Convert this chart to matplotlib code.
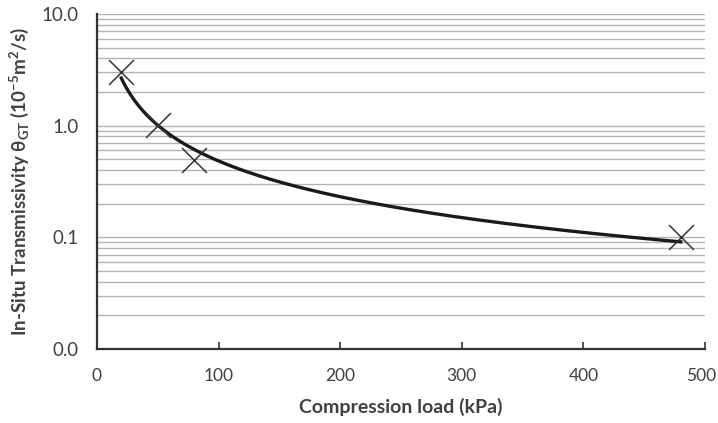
import numpy as np
import matplotlib
matplotlib.use("Agg")
import matplotlib.pyplot as plt
import matplotlib.transforms as mtransforms
from matplotlib.ticker import FixedLocator, FixedFormatter, LogLocator, NullFormatter

# Data
load_kpa = [20, 50, 80, 480]
transmissivity = [3.0, 1.02, 0.49, 0.10]
x_ticks = [0, 100, 200, 300, 400, 500]
y_ticks = [0.01, 0.1, 1.0, 10.0]
y_tick_labels = ["0.0", "0.1", "1.0", "10.0"]

plt.rcParams['font.family'] = ['Lato', 'DejaVu Sans']
plt.rcParams['mathtext.fontset'] = 'custom'
plt.rcParams['mathtext.rm'] = 'Lato:bold'
plt.rcParams['mathtext.bf'] = 'Lato:bold'
plt.rcParams['mathtext.it'] = 'Lato:bold'

fig = plt.figure(figsize=(7.18, 4.23), dpi=100)
ax = fig.add_axes([0.135, 0.175, 0.847, 0.792])

# power-law trend line fitted to data
lx = np.log(load_kpa)
ly = np.log(transmissivity)
b, a = np.polyfit(lx, ly, 1)
xs = np.linspace(min(load_kpa), max(load_kpa), 300)
ax.plot(xs, np.exp(a) * xs ** b, color='#1a1a1a', lw=2.4, zorder=3)

ax.scatter(load_kpa, transmissivity, marker='x', s=320, color='#333333',
           linewidths=1.1, zorder=4)

ax.set_yscale('log')
ax.set_ylim(0.01, 10)
ax.set_xlim(0, 500)

ax.yaxis.set_major_locator(FixedLocator(y_ticks))
ax.yaxis.set_major_formatter(FixedFormatter(y_tick_labels))
ax.yaxis.set_minor_locator(LogLocator(base=10, subs=np.arange(2, 10)))
ax.yaxis.set_minor_formatter(NullFormatter())
ax.grid(True, which='both', axis='y', color='#b3b3b3', lw=1.0)
ax.set_axisbelow(True)

ax.xaxis.set_major_locator(FixedLocator(x_ticks))
ax.tick_params(axis='x', direction='in', length=5, width=1.2, color='#333333',
               labelsize=12.5, labelcolor='#404040', pad=14)
ax.tick_params(axis='y', which='both', length=0, labelsize=13.5,
               labelcolor='#404040', pad=13)

for s in ['top', 'right']:
    ax.spines[s].set_visible(False)
for s in ['left', 'bottom']:
    ax.spines[s].set_color('#333333')
    ax.spines[s].set_linewidth(1.6)

ax.set_xlabel('Compression load (kPa)', fontsize=14, fontweight='bold',
              color='#404040', labelpad=10)
ax.set_ylabel(r'In-Situ Transmissivity θ$_{\mathrm{GT}}$ (10$^{\mathrm{-5}}$m$^{\mathrm{2}}$/s)',
              fontsize=13.5, fontweight='bold', color='#404040', labelpad=8)

# nudge the last x tick label so it stays inside the figure
last = ax.get_xticklabels()[-1]
last.set_transform(last.get_transform() +
                   mtransforms.ScaledTranslation(-3 / 72, 0, fig.dpi_scale_trans))

fig.savefig('out.png', dpi=100)
